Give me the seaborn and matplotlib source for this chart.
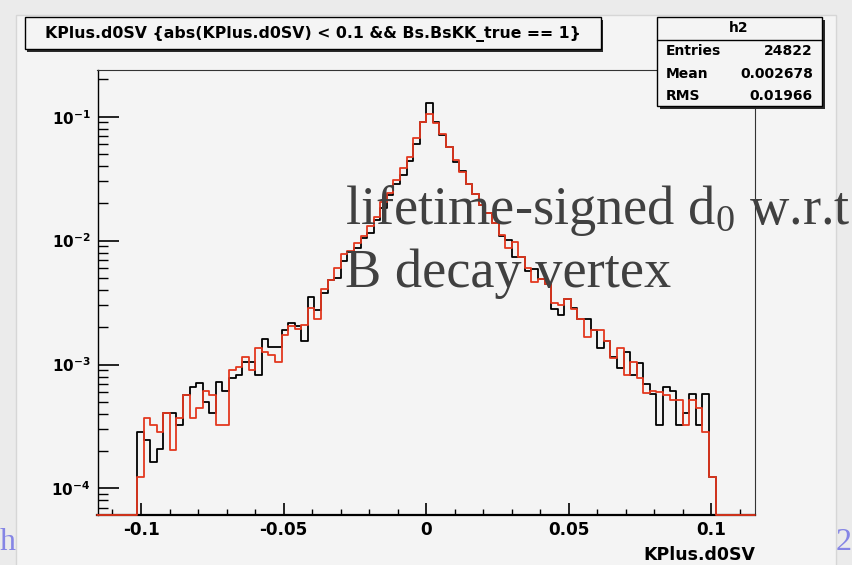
import numpy as np
import pandas as pd
import matplotlib
matplotlib.use("Agg")
import matplotlib.pyplot as plt
from matplotlib.patches import Rectangle
from matplotlib.lines import Line2D
from matplotlib.ticker import FixedLocator, MultipleLocator, LogLocator, FuncFormatter
import seaborn as sns

# Histogram binning: 100 bins, only the central 88 are populated (|d0| < 0.1)
x_low, x_high = -0.11525, 0.11525
n_bins = 100
first_filled = 6

# Normalised bin contents of KPlus.d0SV (black) and the comparison sample (red)
black_vals = [
    2.87e-4, 2.46e-4, 1.62e-4, 2.08e-4, 4.08e-4, 4.08e-4, 3.25e-4, 5.67e-4, 6.62e-4, 7.05e-4,
    5.01e-4, 4.04e-4, 7.27e-4, 6.11e-4, 7.74e-4, 8.23e-4, 1.05e-3, 1.05e-3, 8.23e-4, 1.60e-3,
    1.39e-3, 1.39e-3, 1.90e-3, 2.18e-3, 2.05e-3, 1.56e-3, 3.49e-3, 2.75e-3, 3.80e-3, 4.81e-3,
    5.02e-3, 6.88e-3, 8.14e-3, 8.67e-3, 1.044e-2, 1.15e-2, 1.47e-2, 1.82e-2, 2.33e-2, 2.85e-2,
    3.38e-2, 4.39e-2, 5.99e-2, 9.11e-2, 0.1283, 9.06e-2, 7.12e-2, 5.73e-2, 4.33e-2, 3.65e-2,
    2.85e-2, 2.36e-2, 1.94e-2, 1.66e-2, 1.38e-2, 1.08e-2, 1.01e-2, 7.42e-3, 7.42e-3, 5.72e-3,
    5.87e-3, 4.87e-3, 4.46e-3, 2.79e-3, 2.51e-3, 3.38e-3, 2.84e-3, 2.32e-3, 2.32e-3, 1.90e-3,
    1.35e-3, 1.56e-3, 1.16e-3, 9.32e-4, 1.27e-3, 8.23e-4, 1.02e-3, 6.96e-4, 5.78e-4, 3.25e-4,
    6.62e-4, 6.14e-4, 3.25e-4, 4.08e-4, 5.75e-4, 3.25e-4, 5.75e-4, 1.24e-4,
]
red_vals = [
    1.24e-4, 3.68e-4, 3.25e-4, 2.87e-4, 4.08e-4, 2.04e-4, 3.68e-4, 5.67e-4, 3.68e-4, 4.48e-4,
    6.11e-4, 5.67e-4, 3.25e-4, 3.25e-4, 9.03e-4, 9.60e-4, 1.16e-3, 9.03e-4, 1.35e-3, 1.27e-3,
    1.19e-3, 1.05e-3, 1.73e-3, 2.05e-3, 1.92e-3, 2.08e-3, 2.84e-3, 2.32e-3, 4.05e-3, 4.81e-3,
    5.98e-3, 7.75e-3, 8.25e-3, 9.62e-3, 1.08e-2, 1.32e-2, 1.56e-2, 2.06e-2, 2.41e-2, 3.08e-2,
    3.88e-2, 4.76e-2, 6.70e-2, 9.11e-2, 0.1051, 8.90e-2, 7.21e-2, 5.73e-2, 4.47e-2, 3.56e-2,
    2.85e-2, 2.36e-2, 1.94e-2, 1.66e-2, 1.38e-2, 1.11e-2, 8.67e-3, 9.80e-3, 7.42e-3, 5.98e-3,
    4.66e-3, 4.87e-3, 4.46e-3, 3.12e-3, 3.02e-3, 3.38e-3, 2.79e-3, 2.32e-3, 1.68e-3, 1.90e-3,
    1.90e-3, 1.56e-3, 1.12e-3, 1.35e-3, 8.23e-4, 1.05e-3, 7.74e-4, 5.86e-4, 6.11e-4, 6.03e-4,
    5.67e-4, 5.17e-4, 5.17e-4, 3.25e-4, 5.17e-4, 4.43e-4, 2.87e-4, 1.24e-4,
]

xtick_vals = [-0.1, -0.05, 0, 0.05, 0.1]
xtick_labels = ["-0.1", "-0.05", "0", "0.05", "0.1"]
y_low, y_high = 6.16e-5, 0.238

title = "KPlus.d0SV {abs(KPlus.d0SV) < 0.1 && Bs.BsKK_true == 1}"
stats_name = "h2"
stats_rows = [("Entries", "24822"), ("Mean", "0.002678"), ("RMS", "0.01966")]
xlabel = "KPlus.d0SV"
note_lines = [r"lifetime-signed d$_0$ w.r.t", "B decay vertex"]
edge_glyphs = ["h", "2"]

sns.set_theme(style="ticks")
plt.rcParams["font.family"] = ["DejaVu Sans"]
plt.rcParams["mathtext.fontset"] = "dejavusans"
plt.rcParams["mathtext.rm"] = "Liberation Serif"
plt.rcParams["mathtext.it"] = "Liberation Serif:italic"
plt.rcParams["mathtext.bf"] = "Liberation Serif:bold"
for key in ["text.color", "axes.labelcolor", "xtick.color", "ytick.color", "axes.edgecolor"]:
    plt.rcParams[key] = "black"

W, H = 852, 565
fig = plt.figure(figsize=(W / 100, H / 100), dpi=100)
fig.patch.set_facecolor("#ebebeb")


def fx(px):
    return px / W


def fy(py):
    return 1 - py / H


def fig_box(x0, y0, x1, y1, **kw):
    return Rectangle((fx(x0), fy(y1)), fx(x1) - fx(x0), (y1 - y0) / H,
                     transform=fig.transFigure, **kw)


# canvas
fig.patches.append(fig_box(16, 15, 836, 600, facecolor="#f4f4f4",
                           edgecolor="#d6d6d6", lw=1, zorder=-1))

ax = fig.add_axes([fx(97.5), fy(514.5), fx(755) - fx(97.5), fy(70) - fy(514.5)])
ax.set_facecolor("#f4f4f4")

edges = np.linspace(x_low, x_high, n_bins + 1)


def step_frame(vals):
    full = np.zeros(n_bins)
    full[first_filled:first_filled + len(vals)] = vals
    # empty bins sit on the lower edge of the log axis
    heights = np.where(full > 0, full, y_low)
    return pd.DataFrame({"x": edges, "y": np.append(heights, heights[-1])})


ax.set_yscale("log")
sns.lineplot(data=step_frame(black_vals), x="x", y="y", drawstyle="steps-post",
             estimator=None, color="black", lw=1.3, ax=ax, zorder=3, clip_on=False)
sns.lineplot(data=step_frame(red_vals), x="x", y="y", drawstyle="steps-post",
             estimator=None, color="#e3381f", lw=1.3, ax=ax, zorder=3.1, clip_on=False)

ax.set_xlim(x_low, x_high)
ax.set_ylim(y_low, y_high)

ax.xaxis.set_major_locator(FixedLocator(xtick_vals))
ax.set_xticklabels(xtick_labels, fontweight="bold")
ax.xaxis.set_minor_locator(MultipleLocator(0.01))
ax.yaxis.set_major_locator(LogLocator(base=10, numticks=10))
ax.yaxis.set_minor_locator(LogLocator(base=10, subs=np.arange(2, 10), numticks=20))
ax.yaxis.set_major_formatter(FuncFormatter(
    lambda v, p: r"$\mathbf{10^{%d}}$" % round(np.log10(v))))

ax.tick_params(axis="x", which="major", direction="in", length=8.6, width=1.2,
               pad=5, labelsize=12.2)
ax.tick_params(axis="x", which="minor", direction="in", length=4.3, width=1)
ax.tick_params(axis="y", which="major", direction="in", length=15, width=1.2,
               pad=5, labelsize=11)
ax.tick_params(axis="y", which="minor", direction="in", length=7.2, width=1)

ax.spines["left"].set_linewidth(1.0)
ax.spines["bottom"].set_linewidth(1.6)
for side in ["top", "right"]:
    ax.spines[side].set_linewidth(0.8)
    ax.spines[side].set_color("#333333")

ax.set_ylabel("")
ax.set_xlabel(xlabel, loc="right", fontsize=12.5, fontweight="bold", labelpad=4.5)

# title box
fig.patches.append(fig_box(27, 20, 603, 52, facecolor="#2a2a2a", lw=0, zorder=5))
fig.patches.append(fig_box(24.5, 17.3, 600.5, 49.3, facecolor="#f4f4f4",
                           edgecolor="black", lw=1, zorder=6))
fig.text(fx(312.5), fy(33.5), title, ha="center", va="center", fontsize=11.3,
         fontweight="bold", zorder=7)

# statistics box
fig.patches.append(fig_box(659.5, 20, 824.5, 109, facecolor="#2a2a2a", lw=0, zorder=5))
fig.patches.append(fig_box(656.7, 17.3, 821.7, 106, facecolor="#f4f4f4",
                           edgecolor="black", lw=1, zorder=6))
fig.lines.append(Line2D([fx(656.7), fx(821.7)], [fy(40), fy(40)],
                        transform=fig.transFigure, color="black", lw=1, zorder=7))
fig.text(fx(739), fy(28.5), stats_name, ha="center", va="center", fontsize=10,
         fontweight="bold", zorder=7)
for i, (label, value) in enumerate(stats_rows):
    yy = 51 + 22.5 * i
    fig.text(fx(666), fy(yy), label, ha="left", va="center", fontsize=10,
             fontweight="bold", zorder=7)
    fig.text(fx(813), fy(yy), value, ha="right", va="center", fontsize=10,
             fontweight="bold", zorder=7)

# annotation over the plot
for i, line in enumerate(note_lines):
    fig.text(fx(345), fy(224 + 62.5 * i), line, ha="left", va="baseline",
             fontsize=39.2, family="Liberation Serif", color="#404040",
             math_fontfamily="custom", zorder=8)

fig.text(fx(0), fy(550), edge_glyphs[0], ha="left", va="baseline", fontsize=23,
         family="Liberation Serif", color="#8585e5")
fig.text(fx(835.5), fy(550), edge_glyphs[1], ha="left", va="baseline", fontsize=23,
         family="Liberation Serif", color="#8585e5")

fig.savefig("out.png", dpi=100, facecolor=fig.get_facecolor())
